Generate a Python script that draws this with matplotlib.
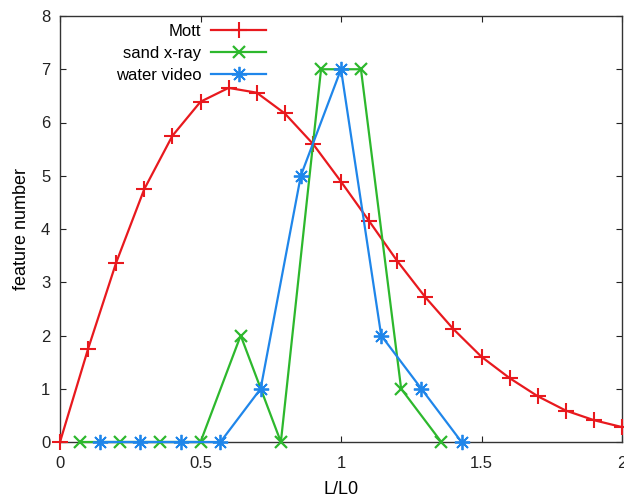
import matplotlib
matplotlib.use('Agg')
import matplotlib.pyplot as plt

plt.rcParams['font.family'] = ['Liberation Sans', 'DejaVu Sans']

# Mott distribution
mott_x = [0.0, 0.1, 0.2, 0.3, 0.4, 0.5, 0.6, 0.7, 0.8, 0.9, 1.0,
          1.1, 1.2, 1.3, 1.4, 1.5, 1.6, 1.7, 1.8, 1.9, 2.0]
mott_y = [0.0, 1.75, 3.37, 4.75, 5.75, 6.39, 6.65, 6.56, 6.17, 5.6, 4.89,
          4.15, 3.4, 2.72, 2.12, 1.6, 1.2, 0.86, 0.59, 0.41, 0.28]

# sand x-ray
sand_x = [0.071, 0.214, 0.357, 0.5, 0.643, 0.786, 0.929, 1.071, 1.214, 1.357]
sand_y = [0, 0, 0, 0, 2, 0, 7, 7, 1, 0]

# water video
water_x = [0.143, 0.286, 0.429, 0.571, 0.714, 0.857, 1.0, 1.143, 1.286, 1.429]
water_y = [0, 0, 0, 0, 1, 5, 7, 2, 1, 0]

xticks = [0, 0.5, 1, 1.5, 2]
xticklabels = ['0', '0.5', '1', '1.5', '2']
yticks = [0, 1, 2, 3, 4, 5, 6, 7, 8]

fig = plt.figure(figsize=(6.24, 5.01), dpi=100)
ax = fig.add_axes([60 / 624, 59 / 501, 562 / 624, 426 / 501])

ax.plot(mott_x, mott_y, color='#e8191e', lw=1.6, marker='+', ms=11, mew=1.5,
        label='Mott', clip_on=False, zorder=3)
ax.plot(sand_x, sand_y, color='#2db82d', lw=1.6, marker='x', ms=9, mew=1.6,
        label='sand x-ray', clip_on=False, zorder=4)
ax.plot(water_x, water_y, color='#1f86ea', lw=1.6, marker=(8, 2, 0), ms=11, mew=1.3,
        label='water video', clip_on=False, zorder=5)

ax.set_xlim(0, 2)
ax.set_ylim(0, 8)
ax.set_xticks(xticks)
ax.set_xticklabels(xticklabels)
ax.set_yticks(yticks)
ax.tick_params(direction='in', top=True, right=True, length=4, width=0.8,
               labelsize=12, colors='#222222')
ax.tick_params(axis='x', pad=10)
ax.tick_params(axis='y', pad=7)
for s in ax.spines.values():
    s.set_color('#333333')
    s.set_linewidth(1.0)

ax.set_xlabel('L/L0', fontsize=13, labelpad=7)
ax.set_ylabel('feature number', fontsize=13, labelpad=8)

ax.legend(loc='upper right', bbox_to_anchor=(0.385, 1.005), frameon=False,
          markerfirst=False, fontsize=12, handlelength=3.3, handletextpad=0.6,
          labelspacing=0.42, borderaxespad=0.2)

fig.savefig('out.png', dpi=100)
